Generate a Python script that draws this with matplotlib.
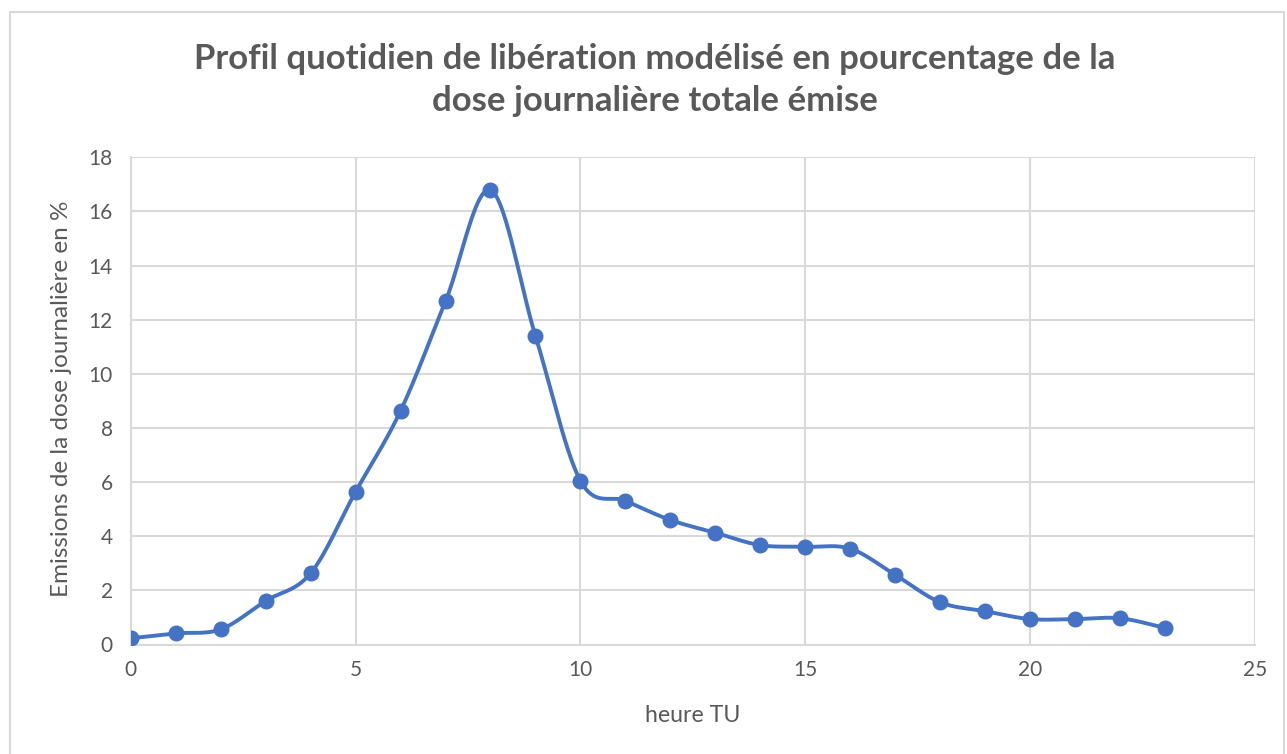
import numpy as np
import matplotlib
matplotlib.use("Agg")
import matplotlib.pyplot as plt
from matplotlib.patches import Rectangle

hours = list(range(24))
emissions = [0.23, 0.41, 0.56, 1.61, 2.63, 5.64, 8.63, 12.68, 16.79, 11.40,
             6.05, 5.31, 4.60, 4.13, 3.67, 3.61, 3.54, 2.57, 1.56, 1.23,
             0.94, 0.94, 0.97, 0.61]
x_ticks = [0, 5, 10, 15, 20, 25]
y_ticks = [0, 2, 4, 6, 8, 10, 12, 14, 16, 18]
title = "Profil quotidien de libération modélisé en pourcentage de la\ndose journalière totale émise"
xlabel = "heure TU"
ylabel = "Emissions de la dose journalière en %"

plt.rcParams['font.family'] = ['Lato', 'DejaVu Sans']
W, H = 1287, 754
fig = plt.figure(figsize=(W / 100, H / 100), dpi=100)
fig.patch.set_facecolor("white")
fig.patches.append(Rectangle((10 / W, -0.1), (1284 - 10) / W, 1.1 - 12 / H,
                             transform=fig.transFigure, fill=False,
                             edgecolor="#d9d9d9", linewidth=1.5))

ax = fig.add_axes([130.7 / W, 1 - 644.5 / H, (1255 - 130.7) / W, (644.5 - 157.3) / H])

# Excel-like smoothed line (Catmull-Rom Bezier)
def smooth(xs, ys, n=30):
    P = np.column_stack([xs, ys]).astype(float)
    P = np.vstack([P[0], P, P[-1]])
    out = []
    for i in range(1, len(P) - 2):
        p0, p1, p2, p3 = P[i - 1], P[i], P[i + 1], P[i + 2]
        c1 = p1 + (p2 - p0) / 6.0
        c2 = p2 - (p3 - p1) / 6.0
        t = np.linspace(0, 1, n)[:, None]
        seg = ((1 - t) ** 3) * p1 + 3 * ((1 - t) ** 2) * t * c1 + 3 * (1 - t) * t ** 2 * c2 + t ** 3 * p2
        out.append(seg if i == 1 else seg[1:])
    return np.vstack(out)

curve = smooth(hours, emissions)
color = "#4472C4"
ax.plot(curve[:, 0], curve[:, 1], color=color, linewidth=2.8, solid_capstyle="round", zorder=3)
ax.plot(hours, emissions, linestyle="none", marker="o", markersize=10.5, color=color, zorder=4)

ax.set_xlim(0, 25)
ax.set_ylim(0, 18)
ax.set_xticks(x_ticks)
ax.set_yticks(y_ticks)
ax.grid(True, color="#d9d9d9", linewidth=1.5)
ax.set_axisbelow(True)
for s in ["top", "right"]:
    ax.spines[s].set_visible(False)
for s in ["left", "bottom"]:
    ax.spines[s].set_color("#d9d9d9")
    ax.spines[s].set_linewidth(1.5)
ax.tick_params(length=0, labelsize=15, colors="#595959")
ax.tick_params(axis="x", pad=11)
ax.tick_params(axis="y", pad=13)

fig.text(655 / W, 1 - 80 / H, title, ha="center", va="center", fontsize=25,
         fontweight="bold", color="#595959", linespacing=1.4)
fig.text(693 / W, 1 - 715 / H, xlabel, ha="center", va="center", fontsize=16.7, color="#595959")
fig.text(62 / W, 1 - 399 / H, ylabel, ha="center", va="center", rotation=90,
         fontsize=17.5, color="#595959")

fig.savefig("out.png", dpi=100, facecolor="white")
